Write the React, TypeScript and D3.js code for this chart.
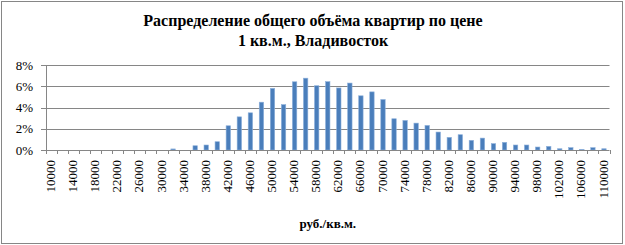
import React from "react";
import * as d3 from "d3";

const categories: number[] = [
  10000, 12000, 14000, 16000, 18000, 20000, 22000, 24000, 26000, 28000, 30000,
  32000, 34000, 36000, 38000, 40000, 42000, 44000, 46000, 48000, 50000,
  52000, 54000, 56000, 58000, 60000, 62000, 64000, 66000, 68000, 70000,
  72000, 74000, 76000, 78000, 80000, 82000, 84000, 86000, 88000, 90000,
  92000, 94000, 96000, 98000, 100000, 102000, 104000, 106000, 108000, 110000,
];

const shares: number[] = [
  0, 0, 0, 0, 0, 0, 0, 0, 0, 0, 0,
  0.1, 0, 0.4, 0.47, 0.78, 2.28, 3.12, 3.5, 4.5, 5.8,
  4.27, 6.42, 6.76, 6.05, 6.43, 5.84, 6.3, 5.1, 5.47, 4.75,
  2.94, 2.78, 2.53, 2.31, 1.69, 1.19, 1.44, 0.91, 1.12, 0.6,
  0.72, 0.47, 0.47, 0.28, 0.34, 0.12, 0.22, 0.06, 0.22, 0.12,
];

const yTicks: number[] = [0, 2, 4, 6, 8];
const xLabels: number[] = categories.filter((_, i) => i % 2 === 0);

const titleLines: string[] = ["Распределение общего объёма квартир по цене", "1 кв.м., Владивосток"];
const xTitle = "руб./кв.м.";

const W = 625;
const H = 245;
const font = "Liberation Serif";

export default function App() {
  const left = 46;
  const right = 609.5;
  const top = 65;
  const bottom = 150;

  const x = d3
    .scaleBand<number>()
    .domain(categories)
    .range([left, right])
    .paddingInner(0.6)
    .paddingOuter(0.3);
  const y = d3.scaleLinear().domain([0, 8]).range([bottom, top]);

  const boundaries = d3.range(categories.length + 1).map((k) => left + k * ((right - left) / categories.length));

  return (
    <svg
      width={W}
      height={H}
      style={{ position: "absolute", left: 0, top: 0, background: "#fff", fontFamily: font }}
    >
      <rect x={1.5} y={1.5} width={621} height={242} fill="#fff" stroke="#868686" strokeWidth={1} />
      {titleLines.map((t, i) => (
        <text
          key={t}
          x={313}
          y={26 + i * 19.5}
          textAnchor="middle"
          fontSize={16}
          fontWeight="bold"
          fill="#000"
          style={{ fontFamily: font }}
        >
          {t}
        </text>
      ))}
      {yTicks.map((t) => (
        <g key={t}>
          <line
            x1={left - 5}
            x2={t === 0 ? left : right}
            y1={Math.round(y(t)) + 0.5}
            y2={Math.round(y(t)) + 0.5}
            stroke="#868686"
            strokeWidth={1}
          />
          <text
            x={33}
            y={y(t)}
            dy="0.35em"
            textAnchor="end"
            fontSize={13}
            fill="#000"
            style={{ fontFamily: font }}
          >
            {t}%
          </text>
        </g>
      ))}
      <line x1={left + 0.5} x2={left + 0.5} y1={y(8)} y2={bottom} stroke="#868686" />
      {categories.map((c, i) => {
        const v = shares[i];
        if (v <= 0) return null;
        const bx = (x(c) as number) + x.bandwidth() / 2 - 2.2;
        return (
          <rect
            key={c}
            x={bx}
            y={y(v)}
            width={4.4}
            height={bottom - y(v)}
            fill="#4A7EBB"
            stroke="#8DB0DB"
            strokeWidth={0.6}
          />
        );
      })}
      <line x1={left - 5} x2={right} y1={Math.round(bottom) + 0.5} y2={Math.round(bottom) + 0.5} stroke="#868686" />
      {boundaries.map((bx, k) => (
        <line
          key={k}
          x1={Math.round(bx) + 0.5}
          x2={Math.round(bx) + 0.5}
          y1={bottom}
          y2={bottom + 4}
          stroke="#868686"
        />
      ))}
      {xLabels.map((c) => {
        const cx = (x(c) as number) + x.bandwidth() / 2 - 1;
        return (
          <text
            key={c}
            transform={`translate(${cx},${160}) rotate(-90)`}
            textAnchor="end"
            dy="0.35em"
            fontSize={13}
            fill="#000"
            style={{ fontFamily: font }}
          >
            {c}
          </text>
        );
      })}
      <text
        x={(left + right) / 2}
        y={228}
        textAnchor="middle"
        fontSize={13}
        fontWeight="bold"
        fill="#000"
        style={{ fontFamily: font }}
      >
        {xTitle}
      </text>
    </svg>
  );
}
